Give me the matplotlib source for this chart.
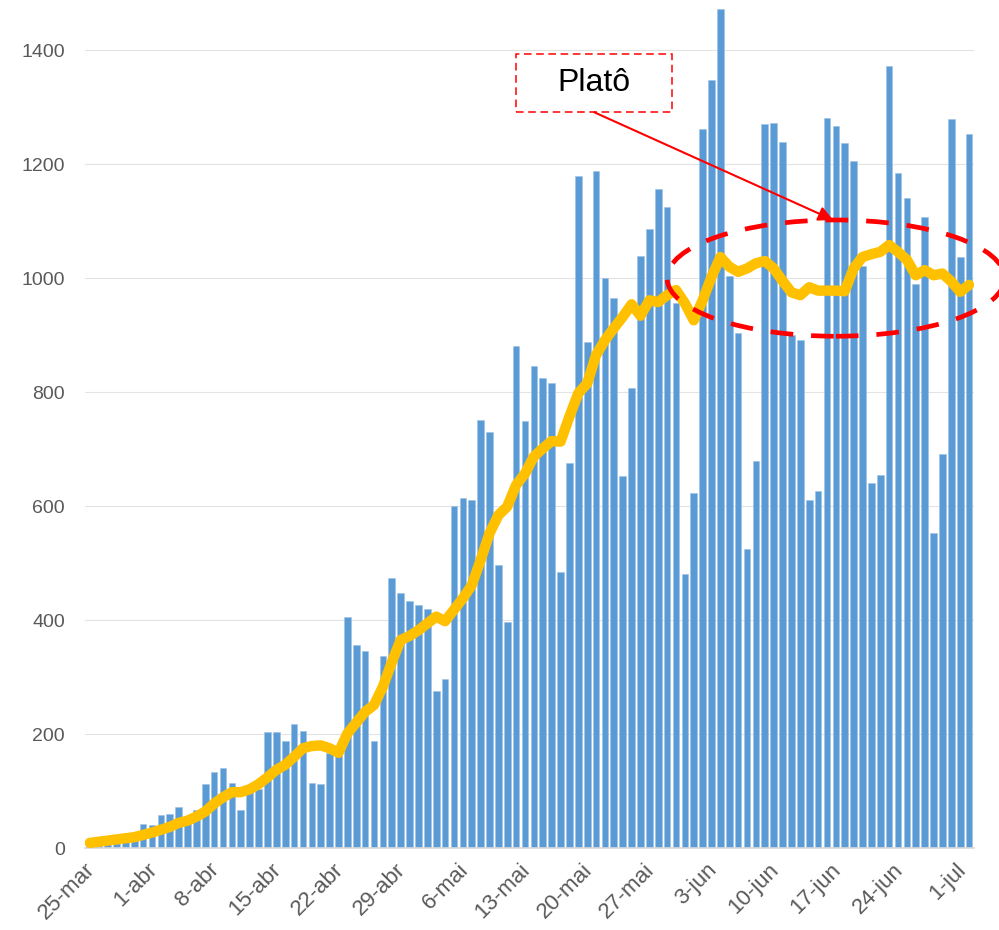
import numpy as np
import matplotlib
matplotlib.use('Agg')
import matplotlib.pyplot as plt
from matplotlib.patches import Ellipse, Rectangle

plt.rcParams['font.family'] = ['Liberation Sans', 'DejaVu Sans']

# daily values, 25-mar .. 2-jul
deaths = [12, 18, 15, 22, 22, 24, 42, 40, 58, 60,
          72, 55, 67, 113, 133, 140, 114, 67, 98, 104,
          204, 204, 187, 217, 205, 114, 112, 166, 164, 406,
          356, 345, 188, 337, 473, 448, 434, 427, 420, 275,
          296, 600, 615, 611, 751, 730, 497, 396, 881, 749,
          845, 824, 816, 485, 675, 1180, 888, 1188, 1001, 965,
          653, 807, 1039, 1086, 1156, 1124, 956, 481, 623, 1262,
          1348, 1473, 1004, 904, 525, 679, 1271, 1273, 1238, 900,
          891, 611, 627, 1281, 1267, 1237, 1205, 1021, 640, 654,
          1373, 1185, 1140, 989, 1108, 552, 691, 1280, 1037, 1252]

# moving average line
avg7 = [9, 11, 13, 15, 17, 19, 23, 27, 32, 37,
        44, 48, 55, 64, 78, 89, 98, 98, 103, 112,
        124, 137, 146, 160, 175, 179, 180, 175, 167, 201,
        220, 239, 251, 283, 326, 365, 372, 382, 394, 406,
        398, 418, 438, 461, 505, 552, 584, 599, 637, 657,
        687, 701, 714, 713, 757, 798, 815, 865, 891, 912,
        932, 954, 934, 961, 958, 970, 979, 956, 926, 961,
        1002, 1037, 1020, 1011, 1017, 1026, 1030, 1017, 995, 975,
        970, 984, 978, 978, 978, 977, 1017, 1037, 1042, 1046,
        1058, 1046, 1032, 1005, 1014, 1005, 1008, 994, 976, 988]

tick_labels = ['25-mar', '1-abr', '8-abr', '15-abr', '22-abr', '29-abr', '6-mai',
               '13-mai', '20-mai', '27-mai', '3-jun', '10-jun', '17-jun', '24-jun', '1-jul']

x = np.arange(len(deaths))

fig = plt.figure(figsize=(9.99, 9.30), dpi=100)
ax = fig.add_axes([84.5/999, 82/930, 889/999, 848/930])

ax.bar(x, deaths, width=0.75, color='#5B9BD5', edgecolor='#9DC3E6', linewidth=0.4, zorder=2)
ax.plot(x, avg7, color='#FFC000', lw=7.5, solid_capstyle='round', solid_joinstyle='round', zorder=3)

ax.set_xlim(-0.5, 99.5)
ax.set_ylim(0, 1488)
ax.set_yticks(range(0, 1401, 200))
# labels sit a little left of the day they name
ax.set_xticks(np.arange(0, 99, 7) - 0.6)
ax.set_xticklabels(tick_labels, rotation=45, ha='right', va='top', rotation_mode='anchor')

ax.yaxis.grid(True, color='#E3E3E3', lw=0.8)
ax.set_axisbelow(True)
for s in ['top', 'right', 'left']:
    ax.spines[s].set_visible(False)
ax.spines['bottom'].set_color('#D9D9D9')
ax.spines['bottom'].set_linewidth(1.2)
ax.tick_params(axis='both', length=0, labelcolor='#595959')
ax.tick_params(axis='y', pad=14, labelsize=14)
ax.tick_params(axis='x', pad=8, labelsize=16)

# plateau ellipse
ell = Ellipse((84.0, 1000), 38.0, 204, fill=False, edgecolor='#FF0000', lw=3.4,
              linestyle=(0, (4.8, 3.8)), clip_on=False, zorder=5)
ax.add_patch(ell)

# label box with arrow
box = Rectangle((48.0, 1291), 17.6, 101.5, facecolor='white', edgecolor='#FF0000',
                lw=1.1, linestyle=(0, (5, 3)), zorder=5)
ax.add_patch(box)
ax.text(56.8, 1342, 'Platô', fontsize=23, ha='center', va='center', color='black', zorder=6)
ax.annotate('', xy=(83.7, 1102), xytext=(56.8, 1291),
            arrowprops=dict(arrowstyle='-|>', color='#FF0000', lw=1.5, mutation_scale=22,
                            shrinkA=0, shrinkB=0), zorder=6)

fig.savefig('out.png', dpi=100)
